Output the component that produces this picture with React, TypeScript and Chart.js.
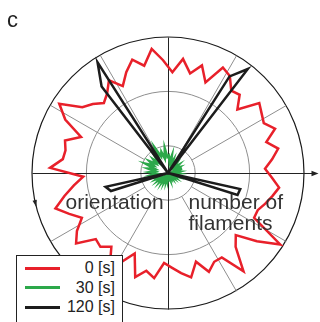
import React, { useEffect, useRef } from "react";
import { Chart, registerables } from "chart.js";

Chart.register(...registerables);

// Bin centres (degrees, counter-clockwise from the positive x axis), 5° bins
const BIN_CENTERS: number[] = Array.from({ length: 72 }, (_, i) => 87.5 - 5 * i);
const ANGLE_LABELS: string[] = BIN_CENTERS.map((a) => `${a}°`);

// number of filaments per orientation bin
const SERIES_0S: number[] = [
  37.1, 42.3, 37.5, 41.5, 36.0, 43.7, 42.3, 38.2, 39.0, 34.6,
  42.3, 40.8, 39.7, 42.6, 37.9, 41.5, 38.6, 35.7, 38.2, 41.2,
  39.3, 37.5, 35.7, 35.7, 48.9, 41.2, 33.8, 36.8, 45.6, 36.8,
  36.8, 39.3, 34.2, 39.3, 37.1, 34.9, 33.1, 39.0, 36.8, 40.1,
  32.0, 36.8, 39.7, 34.2, 36.8, 36.0, 42.6, 39.7, 35.7, 39.3,
  43.4, 39.0, 34.9, 31.2, 43.4, 39.0, 38.6, 39.7, 34.6, 42.6,
  47.4, 39.7, 37.5, 34.9, 36.8, 40.4, 36.0, 40.1, 43.7, 40.4,
  46.0, 41.5,
];

const SERIES_30S: number[] = [
  6.4, 4.2, 6.6, 3.5, 5.2, 3.1, 4.6, 2.7, 4.4, 3.0,
  5.0, 3.4, 4.6, 2.7, 5.4, 3.0, 4.3, 2.6, 4.0, 2.4,
  3.6, 2.0, 3.3, 2.0, 3.0, 1.7, 2.6, 1.7, 2.4, 1.4,
  2.0, 1.4, 2.4, 1.4, 2.0, 1.7, 2.7, 1.7, 3.1, 2.0,
  3.4, 2.0, 3.8, 2.4, 4.2, 2.7, 4.6, 3.1, 5.0, 3.6,
  5.5, 4.0, 6.4, 4.4, 6.8, 4.8, 7.4, 5.1, 8.8, 5.9,
  8.1, 5.5, 7.4, 5.1, 8.5, 6.2, 10.3, 6.6, 8.1, 5.5,
  9.2, 5.9,
];

const SERIES_120S: number[] = [
  0, 0, 0, 0, 0, 0, 42.1, 48.2, 0, 0,
  0, 0, 0, 0, 0, 0, 0, 0, 0, 0,
  27.2, 26.8, 0, 0, 0, 0, 0, 0, 0, 0,
  0, 0, 0, 0, 0, 0, 0, 0, 0, 0,
  0, 0, 0, 0, 0, 0, 0, 0, 0, 0,
  22.0, 23.5, 0, 0, 0, 0, 0, 0, 0, 0,
  0, 0, 0, 0, 40.1, 48.2, 0, 0, 0, 0,
  0, 0,
];

const SERIES_NAMES: string[] = ["0 [s]", "30 [s]", "120 [s]"];
const SERIES_COLORS: string[] = ["#e8202a", "#2ca84a", "#1c1c1c"];
const RING_TICKS: number[] = [0, 10, 30, 50];
const R_MAX = 50;
const SPOKE_ANGLES: number[] = [0, 30, 60, 90, 120, 150, 180, 210, 240, 270, 300, 330];
const DIRECTION_ARROW_ANGLE = -167;

const FONT = '"Liberation Sans", Arial, Helvetica, sans-serif';

const decorPlugin = {
  id: "polarDecor",
  beforeDatasetsDraw(chart: any) {
    const s = chart.scales.r;
    const ctx: CanvasRenderingContext2D = chart.ctx;
    const cx = s.xCenter + 0.5;
    const cy = s.yCenter + 0.5;
    const rIn = s.getDistanceFromCenterForValue(RING_TICKS[1]);
    const rOut = s.getDistanceFromCenterForValue(R_MAX);
    ctx.save();
    // grey spokes from inner ring to outer circle
    ctx.strokeStyle = "#8e8e8e";
    ctx.lineWidth = 1;
    ctx.beginPath();
    for (const a of SPOKE_ANGLES) {
      if (a % 90 === 0) continue;
      const t = (a * Math.PI) / 180;
      ctx.moveTo(cx + rIn * Math.cos(t), cy - rIn * Math.sin(t));
      ctx.lineTo(cx + rOut * Math.cos(t), cy - rOut * Math.sin(t));
    }
    ctx.stroke();
    // main axes
    ctx.strokeStyle = "#222";
    ctx.lineWidth = 1;
    ctx.beginPath();
    ctx.moveTo(cx - rOut, cy);
    ctx.lineTo(cx + rOut + 10, cy);
    ctx.moveTo(cx, cy - rOut);
    ctx.lineTo(cx, cy + rOut);
    ctx.stroke();
    // arrow head on x axis
    ctx.fillStyle = "#222";
    ctx.beginPath();
    const ax = cx + rOut + 14;
    ctx.moveTo(ax, cy);
    ctx.lineTo(ax - 7, cy - 2.8);
    ctx.lineTo(ax - 7, cy + 2.8);
    ctx.closePath();
    ctx.fill();
    // direction arrow on outer circle
    const t = (DIRECTION_ARROW_ANGLE * Math.PI) / 180;
    const px = s.xCenter + rOut * Math.cos(t);
    const py = s.yCenter - rOut * Math.sin(t);
    const dx = -Math.sin(t);
    const dy = -Math.cos(t);
    const nx = -dy;
    const ny = dx;
    ctx.beginPath();
    ctx.moveTo(px + dx * 3.5, py + dy * 3.5);
    ctx.lineTo(px - dx * 3.5 + nx * 2.2, py - dy * 3.5 + ny * 2.2);
    ctx.lineTo(px - dx * 3.5 - nx * 2.2, py - dy * 3.5 - ny * 2.2);
    ctx.closePath();
    ctx.fill();
    ctx.restore();
  },
};

export default function App() {
  const canvasRef = useRef<HTMLCanvasElement | null>(null);

  useEffect(() => {
    if (!canvasRef.current) return;
    const series = [SERIES_0S, SERIES_30S, SERIES_120S];
    const chart = new Chart(canvasRef.current, {
      type: "radar",
      data: {
        labels: ANGLE_LABELS,
        datasets: series.map((d, i) => ({
          label: SERIES_NAMES[i],
          data: d,
          borderColor: SERIES_COLORS[i],
          backgroundColor: "transparent",
          borderWidth: 2.5,
          pointRadius: 0,
          pointHoverRadius: 0,
          fill: false,
          tension: 0,
          order: 3 - i,
        })),
      },
      options: {
        responsive: false,
        animation: false,
        devicePixelRatio: 1,
        events: [],
        layout: { padding: { left: 32, right: 16, top: 37, bottom: 13 } },
        plugins: { legend: { display: false }, tooltip: { enabled: false }, title: { display: false } },
        scales: {
          r: {
            min: 0,
            max: R_MAX,
            startAngle: 2.5,
            ticks: { display: false },
            pointLabels: { display: false },
            angleLines: { display: false },
            grid: {
              circular: true,
              color: (c: any) => (c.tick && c.tick.value === R_MAX ? "#1a1a1a" : "#8e8e8e"),
              lineWidth: (c: any) => (c.tick && c.tick.value === R_MAX ? 1.2 : 1),
            },
            afterBuildTicks: (scale: any) => {
              scale.ticks = RING_TICKS.map((v) => ({ value: v }));
            },
          },
        },
      },
      plugins: [decorPlugin],
    } as any);
    return () => chart.destroy();
  }, []);

  const legendRows = [268, 287.5, 307];

  return (
    <div
      style={{
        position: "absolute",
        left: 0,
        top: 0,
        width: 320,
        height: 322,
        overflow: "hidden",
        background: "#fff",
        fontFamily: FONT,
      }}
    >
      <canvas ref={canvasRef} width={320} height={322} style={{ display: "block" }} />
      <div style={{ position: "absolute", left: 7, top: 8.5, fontSize: 22, lineHeight: "22px", color: "#222" }}>c</div>
      <div style={{ position: "absolute", left: 65.5, top: 190.6, fontSize: 21, lineHeight: "21px", color: "#333" }}>
        orientation
      </div>
      <div style={{ position: "absolute", left: 188.5, top: 190.6, fontSize: 21, lineHeight: "21px", color: "#333" }}>
        number of
        <br />
        filaments
      </div>
      <div
        style={{
          position: "absolute",
          left: 16,
          top: 255,
          width: 107,
          height: 80,
          boxSizing: "border-box",
          border: "1px solid #222",
          background: "#fff",
        }}
      />
      {SERIES_NAMES.map((name, i) => (
        <React.Fragment key={name}>
          <div
            style={{
              position: "absolute",
              left: 25,
              top: legendRows[i] - 1.5,
              width: 35,
              height: 3,
              background: SERIES_COLORS[i],
            }}
          />
          <div
            style={{
              position: "absolute",
              left: 60,
              top: legendRows[i] + 5.7 - 13.3,
              width: 55,
              textAlign: "right",
              fontSize: 16,
              lineHeight: "16px",
              color: "#222",
              whiteSpace: "nowrap",
            }}
          >
            {name}
          </div>
        </React.Fragment>
      ))}
    </div>
  );
}
